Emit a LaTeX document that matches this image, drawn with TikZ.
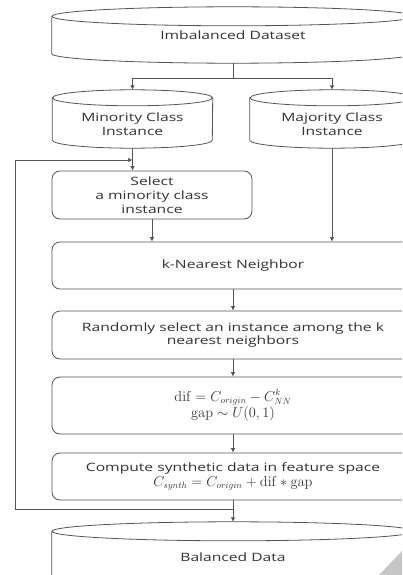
\documentclass[tikz,border=0pt]{standalone}
\usepackage[no-math]{fontspec}
\setmainfont{Open Sans}[FakeStretch=1.36]
\usetikzlibrary{calc,arrows.meta}
\definecolor{linec}{HTML}{555555}
\definecolor{textc}{HTML}{333333}
\tikzset{
  box/.style={draw=linec, line width=0.8pt, rounded corners=8pt, inner sep=0pt, align=center, text=textc, font=\fontsize{11.5}{13.8}\selectfont},
  cyltext/.style={inner sep=0pt, align=center, text=textc, font=\fontsize{11.5}{13.8}\selectfont},
  cylline/.style={draw=linec, line width=0.8pt},
  conn/.style={draw=linec, line width=0.7pt},
  arr/.style={conn, -{Latex[length=4.5pt,width=4.5pt]}},
}
\newcommand{\mathline}[1]{{\fontsize{13.5}{15}\selectfont$#1$}}
% cylinder outline from a node whose north is top of ellipse, south the lowest point
\newcommand{\cylout}[3]{% name, rx, ry
  \draw[cylline] ($(#1.north)+(0,-#3)$) ellipse [x radius=#2, y radius=#3];
  \draw[cylline] ($(#1.north west)+(0,-#3)$) -- ($(#1.south west)+(0,#3)$)
     arc[start angle=180, end angle=360, x radius=#2, y radius=#3]
     -- ($(#1.north east)+(0,-#3)$);
}
\begin{document}
\begin{tikzpicture}[x=1pt,y=1pt]
\useasboundingbox (0,0) rectangle (402,-575);
\clip (0,0) rectangle (402,-575);
\fill[white] (0,0) rectangle (402,-575);

% cylinders (as nodes spanning their outline)
\node[cyltext, minimum width=362pt, minimum height=56pt] (imb) at (233,-35) {Imbalanced Dataset};
\node[cyltext, minimum width=160pt, minimum height=58pt] (mino) at (132.5,-119) {};
\node[cyltext] (minot) at (132.5,-124.5) {Minority Class\\Instance};
\node[cyltext, minimum width=164pt, minimum height=58pt] (majo) at (332,-119) {};
\node[cyltext] (majot) at (332,-124.5) {Majority Class\\Instance};
\node[cyltext, minimum width=362pt, minimum height=80pt] (bal) at (233,-562) {};
\node[cyltext] (balt) at (233,-557) {Balanced Data};

\cylout{imb}{181}{9.5}
\cylout{mino}{80}{8}
\cylout{majo}{82}{8}
\cylout{bal}{181}{9.5}

% process boxes
\node[box, minimum width=200pt, minimum height=48pt] (sel) at (152,-195) {Select\\a minority class\\instance};
\node[box, minimum width=362pt, minimum height=47pt] (knn) at (233,-265.5) {k-Nearest Neighbor};
\node[box, minimum width=362pt, minimum height=48pt] (rnd) at (233,-335) {Randomly select an instance among the k\\nearest neighbors};
\node[box, minimum width=362pt, minimum height=57pt] (dif) at (233,-405.5) {\mathline{\mathrm{dif} = C_{origin} - C_{NN}^{k}}\\[1pt]\mathline{\mathrm{gap} \sim U(0,1)}};
\node[box, minimum width=362pt, minimum height=47pt] (cmp) at (233,-476.5) {Compute synthetic data in feature space\\[1pt]\mathline{C_{synth} = C_{origin} + \mathrm{dif} * \mathrm{gap}}};

% connectors
\coordinate (split) at (233,-78);
\coordinate (join) at (233,-509);
\coordinate (loopL) at (15,-509);
\coordinate (loopT) at (15,-160);
\coordinate (loopE) at (132.5,-160);

\draw[conn] (imb.south) -- (split);
\draw[arr] (split) -| (mino.north);
\draw[arr] (split) -| (majo.north);
\draw[arr] (mino.south) -- (mino.south |- sel.north);
\draw[arr] (sel.south) -- (sel.south |- knn.north);
\draw[arr] (majo.south) -- (majo.south |- knn.north);
\draw[arr] (knn) -- (rnd);
\draw[arr] (rnd) -- (dif);
\draw[arr] (dif) -- (cmp);
\draw[conn] (cmp.south) -- (join);
\draw[arr] (join) -- (bal.north);
\draw[arr] (join) -- (loopL) -- (loopT) -- (loopE);

% watermark fragment
\fill[gray!45] (379,-575) -- (402,-551) -- (402,-575) -- cycle;
\end{tikzpicture}
\end{document}
